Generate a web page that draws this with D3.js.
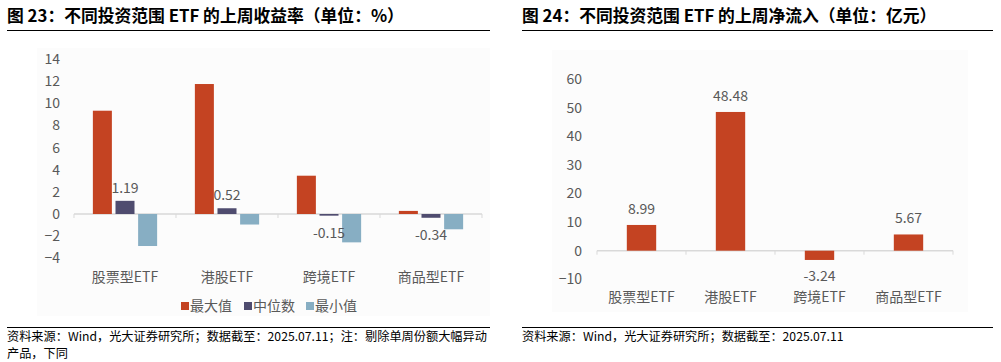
<!DOCTYPE html>
<html>
<head>
<meta charset="utf-8">
<script src="https://cdn.jsdelivr.net/npm/d3@7"></script>
<style>
  body { margin: 0; background: #fff; }
  svg { display: block; font-family: "Noto Sans CJK SC", "Noto Sans", sans-serif; }
</style>
</head>
<body>
<svg id="chart" width="1001" height="362"></svg>
<script>
const categories = ['股票型ETF', '港股ETF', '跨境ETF', '商品型ETF']
const seriesNames = ['最大值', '中位数', '最小值']
const maxValues = [9.33, 11.74, 3.46, 0.28]
const medianValues = [1.19, 0.52, -0.15, -0.34]
const minValues = [-2.89, -0.95, -2.56, -1.38]
const returnTicks = [-4, -2, 0, 2, 4, 6, 8, 10, 12, 14]

const flowValues = [8.99, 48.48, -3.24, 5.67]
const flowTicks = [-10, 0, 10, 20, 30, 40, 50, 60]

const colors = ['#c44322', '#4f4c6f', '#87aec3']
const textColor = '#595959'
const axisColor = '#d9d9d9'

const svg = d3.select('#chart')

function header(x0, x1, title) {
  svg.append('text')
    .attr('x', x0).attr('y', 22)
    .attr('font-size', 16.8).attr('font-weight', 'bold').attr('fill', '#000')
    .text(title)
  svg.append('line')
    .attr('x1', x0).attr('x2', x1).attr('y1', 30.5).attr('y2', 30.5)
    .attr('stroke', '#000').attr('stroke-width', 1)
  svg.append('line')
    .attr('x1', x0).attr('x2', x1).attr('y1', 327.5).attr('y2', 327.5)
    .attr('stroke', '#000').attr('stroke-width', 1)
}

function yAxis(g, y, ticks, xPos) {
  const ax = g.append('g')
    .attr('transform', `translate(${xPos},0)`)
    .call(d3.axisLeft(y).tickValues(ticks).tickSize(0).tickPadding(0))
  ax.select('.domain').remove()
  ax.selectAll('text')
    .attr('fill', textColor).attr('font-size', 14)
    .attr('font-family', '"Noto Sans CJK SC", "Noto Sans", sans-serif')
}

function xAxis(g, x, y0) {
  const [a, b] = x.range()
  g.append('line')
    .attr('x1', a).attr('x2', b).attr('y1', y0).attr('y2', y0)
    .attr('stroke', axisColor).attr('stroke-width', 1.5)
  g.selectAll('.sep')
    .data(categories.map(c => x(c)).concat([b]))
    .join('line')
    .attr('x1', d => d).attr('x2', d => d)
    .attr('y1', y0).attr('y2', y0 + 4)
    .attr('stroke', axisColor)
}

// ---------- left chart: returns ----------
header(7, 490, '图 23：不同投资范围 ETF 的上周收益率（单位：%）')
svg.append('rect')
  .attr('x', 37).attr('y', 48).attr('width', 453).attr('height', 268)
  .attr('fill', '#fcfcfc')

const left = svg.append('g')
const x1 = d3.scaleBand().domain(categories).range([74, 482])
const xIn = d3.scaleBand().domain(seriesNames)
  .range([x1.bandwidth() * 0.185, x1.bandwidth() * 0.815]).paddingInner(0.16)
const y1 = d3.scaleLinear().domain([-4, 14]).range([258.3, 59])

yAxis(left, y1, returnTicks, 60)
xAxis(left, x1, y1(0))

const seriesValues = [maxValues, medianValues, minValues]
seriesNames.forEach((s, si) => {
  left.selectAll(`.bar${si}`)
    .data(categories.map((c, i) => ({ c, v: seriesValues[si][i] })))
    .join('rect')
    .attr('x', d => x1(d.c) + xIn(s))
    .attr('width', xIn.bandwidth())
    .attr('y', d => y1(Math.max(0, d.v)))
    .attr('height', d => Math.abs(y1(d.v) - y1(0)))
    .attr('fill', colors[si])
})

left.selectAll('.medLabel')
  .data(categories.map((c, i) => ({ c, v: medianValues[i] })))
  .join('text')
  .attr('x', d => x1(d.c) + xIn('中位数') + xIn.bandwidth() / 2)
  .attr('y', d => d.v >= 0 ? y1(d.v) - 13 : y1(d.v) + 17)
  .attr('dy', '0.35em')
  .attr('text-anchor', 'middle')
  .attr('font-size', 14).attr('fill', textColor)
  .text(d => d.v.toFixed(2))

left.selectAll('.cat')
  .data(categories)
  .join('text')
  .attr('x', d => x1(d) + x1.bandwidth() / 2)
  .attr('y', 277).attr('dy', '0.35em')
  .attr('text-anchor', 'middle')
  .attr('font-size', 14).attr('fill', textColor)
  .text(d => d)

const legend = left.append('g')
const legendX = [181, 244, 306]
seriesNames.forEach((s, i) => {
  legend.append('rect')
    .attr('x', legendX[i]).attr('y', 302).attr('width', 8).attr('height', 8)
    .attr('fill', colors[i])
  legend.append('text')
    .attr('x', legendX[i] + 9).attr('y', 306).attr('dy', '0.35em')
    .attr('font-size', 14).attr('fill', textColor)
    .text(s)
})

svg.append('text')
  .attr('x', 7).attr('y', 340.5)
  .attr('font-size', 12.2).attr('fill', '#000')
  .text('资料来源：Wind，光大证券研究所；数据截至：2025.07.11；注：剔除单周份额大幅异动')
svg.append('text')
  .attr('x', 7).attr('y', 357.5)
  .attr('font-size', 12.2).attr('fill', '#000')
  .text('产品，下同')

// ---------- right chart: net inflows ----------
header(522, 993, '图 24：不同投资范围 ETF 的上周净流入（单位：亿元）')
svg.append('rect')
  .attr('x', 552).attr('y', 50).attr('width', 416).attr('height', 262)
  .attr('fill', '#fcfcfc')

const right = svg.append('g')
const x2 = d3.scaleBand().domain(categories).range([597, 953])
const y2 = d3.scaleLinear().domain([-10, 60]).range([279.3, 79])
const barW = x2.bandwidth() * 0.33

yAxis(right, y2, flowTicks, 582)
xAxis(right, x2, y2(0))

const flows = categories.map((c, i) => ({ c, v: flowValues[i] }))
right.selectAll('.flow')
  .data(flows)
  .join('rect')
  .attr('x', d => x2(d.c) + (x2.bandwidth() - barW) / 2)
  .attr('width', barW)
  .attr('y', d => y2(Math.max(0, d.v)))
  .attr('height', d => Math.abs(y2(d.v) - y2(0)))
  .attr('fill', colors[0])

right.selectAll('.flowLabel')
  .data(flows)
  .join('text')
  .attr('x', d => x2(d.c) + x2.bandwidth() / 2)
  .attr('y', d => d.v >= 0 ? y2(d.v) - 16 : y2(d.v) + 16)
  .attr('dy', '0.35em')
  .attr('text-anchor', 'middle')
  .attr('font-size', 14).attr('fill', textColor)
  .text(d => d.v.toFixed(2))

right.selectAll('.cat')
  .data(categories)
  .join('text')
  .attr('x', d => x2(d) + x2.bandwidth() / 2)
  .attr('y', 297).attr('dy', '0.35em')
  .attr('text-anchor', 'middle')
  .attr('font-size', 14).attr('fill', textColor)
  .text(d => d)

svg.append('text')
  .attr('x', 522).attr('y', 340.5)
  .attr('font-size', 12.2).attr('fill', '#000')
  .text('资料来源：Wind，光大证券研究所；数据截至：2025.07.11')
</script>
</body>
</html>
